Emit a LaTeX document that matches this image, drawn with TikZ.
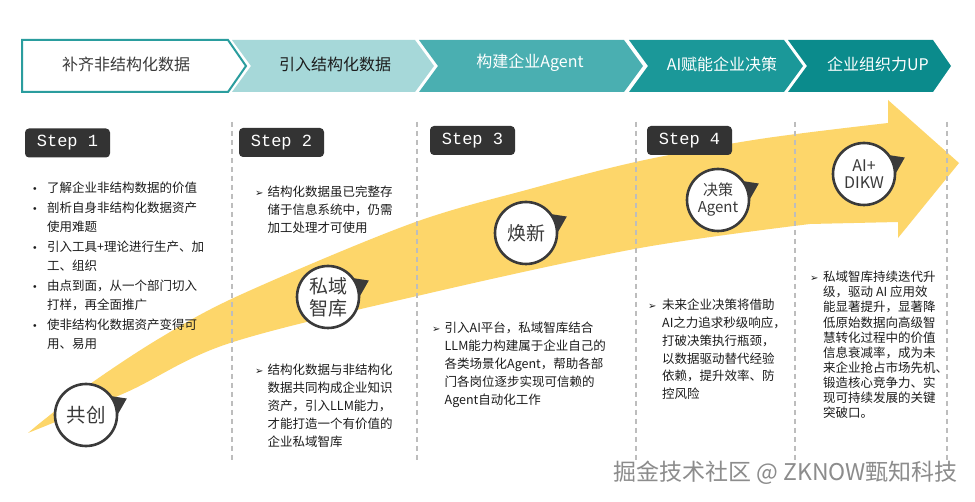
\documentclass[tikz,border=0pt]{standalone}
\usepackage{fontspec}
\newfontfamily\cjk{Noto Sans CJK SC}
\newfontfamily\dejavu{DejaVu Sans}
\newfontfamily\monof{Liberation Mono}
\usetikzlibrary{calc}
\definecolor{yel}{RGB}{253,214,106}
\definecolor{dk}{RGB}{58,58,58}
\definecolor{stepbg}{RGB}{51,51,51}
\definecolor{txt}{RGB}{28,28,28}
\definecolor{tealA}{RGB}{42,157,158}
\definecolor{chB}{RGB}{166,216,217}
\definecolor{chC}{RGB}{74,175,177}
\definecolor{chD}{RGB}{27,152,153}
\definecolor{chE}{RGB}{11,139,140}
\definecolor{dash}{RGB}{189,189,189}
\definecolor{wm}{RGB}{140,140,140}
\newcommand\mybul{\makebox[15pt][l]{\dejavu\fontsize{9.5}{9}\selectfont •}}
\newcommand\myarr{\makebox[12.5pt][l]{\dejavu\fontsize{10}{9}\selectfont ➢}}
\begin{document}
\begin{tikzpicture}[x=1pt,y=-1pt,
  chtext/.style={font=\cjk\fontsize{16}{16}\selectfont, inner sep=0},
  stepbox/.style={fill=stepbg, rounded corners=4pt, minimum width=85pt, minimum height=29pt, inner sep=0, text=white, font=\monof\fontsize{17}{17}\selectfont},
  bubble/.style={circle, minimum size=62pt, inner sep=0, fill=white, draw=dk, line width=2.6pt, text=dk, align=center},
  blk/.style={anchor=base west, inner sep=0, text=txt, font=\cjk\fontsize{12.5}{18}\selectfont},
  sep/.style={draw=dash, line width=1.5pt, dash pattern=on 5pt off 4pt}]
\fill[white] (0,0) rectangle (975,502);
\useasboundingbox (0,0) rectangle (975,502);

% chevrons
\draw[tealA, line width=2pt, fill=white] (22,40) -- (228,40) -- (246,66) -- (228,92) -- (22,92) -- cycle;
\fill[chB] (232,40) -- (415,40) -- (434,66) -- (415,92) -- (232,92) -- (251,66) -- cycle;
\fill[chC] (419,40) -- (624,40) -- (643,66) -- (624,92) -- (419,92) -- (438,66) -- cycle;
\fill[chD] (629,40) -- (784,40) -- (803,66) -- (784,92) -- (629,92) -- (648,66) -- cycle;
\fill[chE] (788,40) -- (933,40) -- (951,66) -- (933,92) -- (788,92) -- (807,66) -- cycle;
\node[chtext, text=dk] (h1) at (126,64) {补齐非结构化数据};
\node[chtext, text=txt] (h2) at (335,64) {引入结构化数据};
\node[chtext, text=white] (h3) at (530,63) {构建企业Agent};
\node[chtext, text=white] (h4) at (722,64) {AI赋能企业决策};
\node[chtext, text=white] (h5) at (878,64) {企业组织力UP};

% yellow arrow
\fill[yel] plot[smooth,tension=0.55] coordinates {(28,433) (45,419) (90,384) (160,338) (240,295) (410,224) (530,189) (640,161) (760,139) (888,123)}
  -- (888,100) -- (959,163) -- (898,238) -- (898,222)
  -- plot[smooth,tension=0.55] coordinates {(810,224) (640,248) (430,293) (230,343) (127,392) (28,433)} -- cycle;

% separators
\foreach \x/\n in {232/d1,417/d2,636/d3,795/d4,947/d5}{
  \coordinate (\n t) at (\x,122);
  \coordinate (\n b) at (\x,462);
  \draw[sep] (\n t) -- (\n b);
}

% step labels
\node[stepbox] (s1) at (67.5,143) {Step 1};
\node[stepbox] (s2) at (281.5,142.5) {Step 2};
\node[stepbox] (s3) at (472.5,140.5) {Step 3};
\node[stepbox] (s4) at (689.5,140.5) {Step 4};

% bubbles
\foreach \n/\x/\y in {b1/86/415, b2/328/297, b3/526/233, b4/718/200, b5/864/174}{
  \coordinate (\n c) at (\x,\y);
  \fill[dk] ($(\n c)+(-42:29)$) -- ($(\n c)+(-22:44)$) -- ($(\n c)+(10:29)$) -- cycle;
}
\node[bubble, font=\cjk\fontsize{19.5}{22}\selectfont] (b1) at (b1c) {共创};
\node[bubble, font=\cjk\fontsize{19}{22}\selectfont] (b2) at (b2c) {私域\\智库};
\node[bubble, font=\cjk\fontsize{19}{22}\selectfont] (b3) at (b3c) {焕新};
\node[bubble, font=\cjk\fontsize{15}{17}\selectfont] (b4) at (b4c) {决策\\Agent};
\node[bubble, font=\cjk\fontsize{16}{17}\selectfont] (b5) at (b5c) {AI+\\DIKW};

% texts
\node[blk, font=\cjk\fontsize{12.5}{19.5}\selectfont] (t1) at (32,192.7) {\begin{tabular}[t]{@{}l@{}l@{}}
\mybul & 了解企业非结构数据的价值\\
\mybul & 剖析自身非结构化数据资产\\
 & 使用难题\\
\mybul & 引入工具+理论进行生产、加\\
 & 工、组织\\
\mybul & 由点到面，从一个部门切入\\
 & 打样，再全面推广\\
\mybul & 使非结构化数据资产变得可\\
 & 用、易用
\end{tabular}};

\node[blk] (t2a) at (255,196.7) {\begin{tabular}[t]{@{}l@{}l@{}}
\myarr & 结构化数据虽已完整存\\
 & 储于信息系统中，仍需\\
 & 加工处理才可使用
\end{tabular}};

\node[blk] (t2b) at (255,374.7) {\begin{tabular}[t]{@{}l@{}l@{}}
\myarr & 结构化数据与非结构化\\
 & 数据共同构成企业知识\\
 & 资产，引入LLM能力，\\
 & 才能打造一个有价值的\\
 & 企业私域智库
\end{tabular}};

\node[blk] (t3) at (432,332.7) {\begin{tabular}[t]{@{}l@{}l@{}}
\myarr & 引入AI平台，私域智库结合\\
 & LLM能力构建属于企业自己的\\
 & 各类场景化Agent，帮助各部\\
 & 门各岗位逐步实现可信赖的\\
 & Agent自动化工作
\end{tabular}};

\node[blk, font=\cjk\fontsize{12.5}{17.8}\selectfont] (t4) at (648,309.7) {\begin{tabular}[t]{@{}l@{}l@{}}
\makebox[14pt][l]{\dejavu\fontsize{10}{9}\selectfont ➢} & 未来企业决策将借助\\
 & AI之力追求秒级响应，\\
 & 打破决策执行瓶颈，\\
 & 以数据驱动替代经验\\
 & 依赖，提升效率、防\\
 & 控风险
\end{tabular}};

\node[blk, font=\cjk\fontsize{12.5}{15.1}\selectfont] (t5) at (810,281.7) {\begin{tabular}[t]{@{}l@{}l@{}}
\makebox[13pt][l]{\dejavu\fontsize{10}{9}\selectfont ➢} & 私域智库持续迭代升\\
 & 级，驱动 AI 应用效\\
 & 能显著提升，显著降\\
 & 低原始数据向高级智\\
 & 慧转化过程中的价值\\
 & 信息衰减率，成为未\\
 & 来企业抢占市场先机、\\
 & 锻造核心竞争力、实\\
 & 现可持续发展的关键\\
 & 突破口。
\end{tabular}};

% watermark
\node[anchor=east, inner sep=0, text=wm, font=\cjk\fontsize{23}{23}\selectfont] (wmk) at (958,473) {掘金技术社区 @ ZKNOW甄知科技};
\end{tikzpicture}
\end{document}
